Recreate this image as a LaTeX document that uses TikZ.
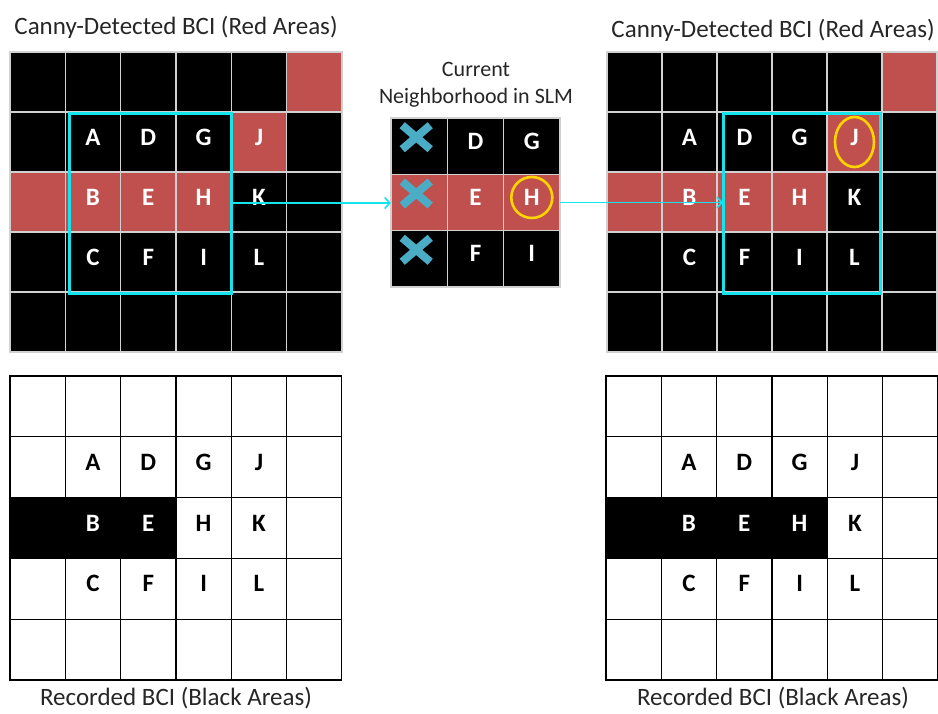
\documentclass[tikz,border=0pt]{standalone}
\usepackage{fontspec}
\setmainfont{Carlito}
\usetikzlibrary{arrows.meta,positioning}
\definecolor{bcired}{HTML}{C0504D}
\definecolor{selcyan}{RGB}{20,228,238}
\definecolor{xblue}{HTML}{4BACC6}
\definecolor{ringgold}{RGB}{255,212,0}
\definecolor{titlegray}{RGB}{38,38,38}

\begin{document}
\begin{tikzpicture}[x=1pt,y=-1pt,
  cell/.style={draw=white!82!black,line width=1.3pt,fill=black,
               minimum width=55.3pt,minimum height=60pt,inner sep=0pt,outer sep=0pt},
  hotcell/.style={draw=white!82!black,line width=1.3pt,fill=bcired},
  rec/.style={draw=black,line width=1.2pt,fill=white,
              minimum width=55.3pt,minimum height=60.8pt,inner sep=0pt,outer sep=0pt},
  lbl/.style={text=white,font=\fontsize{25}{25}\selectfont\bfseries,yshift=5pt},
  lblk/.style={lbl,text=black},
  title/.style={font=\fontsize{25}{30}\selectfont,text=titlegray},
  selbox/.style={draw=selcyan,line width=3pt,inner sep=0pt,outer sep=0pt},
  link/.style={->,draw=selcyan,line width=1.6pt},
  xmark/.style={draw=xblue,line width=8pt},
  ring/.style={draw=ringgold,line width=2.6pt},
  >={Straight Barb[length=5pt,width=11pt]}
]
\useasboundingbox (0,0) rectangle (938,713);

% titles
\node[title] (ttlL) at (176,27) {Canny-Detected BCI (Red Areas)};
\node[title] (ttlR) at (773,30) {Canny-Detected BCI (Red Areas)};
\node[title,align=center,font=\fontsize{22}{27}\selectfont] (ttlM) at (476,85)
  {Current\\Neighborhood in SLM};
\node[title] (ttlBL) at (176,698) {Recorded BCI (Black Areas)};
\node[title] (ttlBR) at (773,698) {Recorded BCI (Black Areas)};

% canny grids
\foreach \r in {0,...,4}
  \foreach \c in {0,...,5} {
    \node[cell] (L\c\r) at ({37.7+55.3*\c},{82+60*\r}) {};
    \node[cell,minimum width=55pt] (R\c\r) at ({634.5+55*\c},{82+60*\r}) {};
  }
\foreach \c/\r in {5/0,4/1,0/2,1/2,2/2,3/2} {
  \draw[hotcell] (L\c\r.north west) rectangle (L\c\r.south east);
  \draw[hotcell] (R\c\r.north west) rectangle (R\c\r.south east);
}

% current neighborhood
\foreach \r in {0,1,2}
  \foreach \c in {0,1,2}
    \node[cell,minimum width=56.3pt,minimum height=56.3pt] (M\c\r) at ({419.2+56.3*\c},{146.2+56.3*\r}) {};
\foreach \c in {0,1,2}
  \draw[hotcell] (M\c1.north west) rectangle (M\c1.south east);
\node[inner sep=0pt,minimum size=169pt] (mid) at (475.5,202.5) {};

% recorded grids
\foreach \r in {0,...,4}
  \foreach \c in {0,...,5} {
    \node[rec] (BL\c\r) at ({37.7+55.3*\c},{406.4+60.8*\r}) {};
    \node[rec] (BR\c\r) at ({633.7+55.3*\c},{406.4+60.8*\r}) {};
  }
\fill (BL02.north west) rectangle (BL22.south east);
\fill (BR02.north west) rectangle (BR32.south east);

% letters
\foreach \t/\c/\r in {A/1/1,D/2/1,G/3/1,J/4/1,B/1/2,E/2/2,H/3/2,K/4/2,C/1/3,F/2/3,I/3/3,L/4/3} {
  \node[lbl] (tL\t) at (L\c\r) {\t};
  \node[lbl] (tR\t) at (R\c\r) {\t};
}
\foreach \t/\c/\r in {D/1/0,G/2/0,E/1/1,H/2/1,F/1/2,I/2/2}
  \node[lbl] (tM\t) at (M\c\r) {\t};
\foreach \t/\c/\r in {A/1/1,D/2/1,G/3/1,J/4/1,H/3/2,K/4/2,C/1/3,F/2/3,I/3/3,L/4/3}
  \node[lblk] (tBL\t) at (BL\c\r) {\t};
\foreach \t/\c/\r in {A/1/1,D/2/1,G/3/1,J/4/1,K/4/2,C/1/3,F/2/3,I/3/3,L/4/3}
  \node[lblk] (tBR\t) at (BR\c\r) {\t};
\foreach \t/\c in {B/1,E/2}
  \node[lbl] (tBLw\t) at (BL\c2) {\t};
\foreach \t/\c in {B/1,E/2,H/3}
  \node[lbl] (tBRw\t) at (BR\c2) {\t};

% discarded column
\foreach \r in {0,1,2}
  \draw[xmark] ([shift={(-17,-21)}]M0\r.center) -- ([shift={(11,3)}]M0\r.center)
               ([shift={(11,-21)}]M0\r.center) -- ([shift={(-17,3)}]M0\r.center);

% rings
\draw[ring] ([yshift=5pt]M21.center) circle (20.5);
\draw[ring] (R41.center) ellipse (19.5 and 25);

% windows and links
\node[selbox,minimum width=162pt,minimum height=180pt] (selL) at (150,203) {};
\node[selbox,minimum width=157pt,minimum height=180pt] (selR) at (801.5,203) {};
\draw[link] (selL.east) -- (selL.east -| mid.west);
\draw[link] (mid.east) -- (mid.east -| selR.west);
\end{tikzpicture}
\end{document}
